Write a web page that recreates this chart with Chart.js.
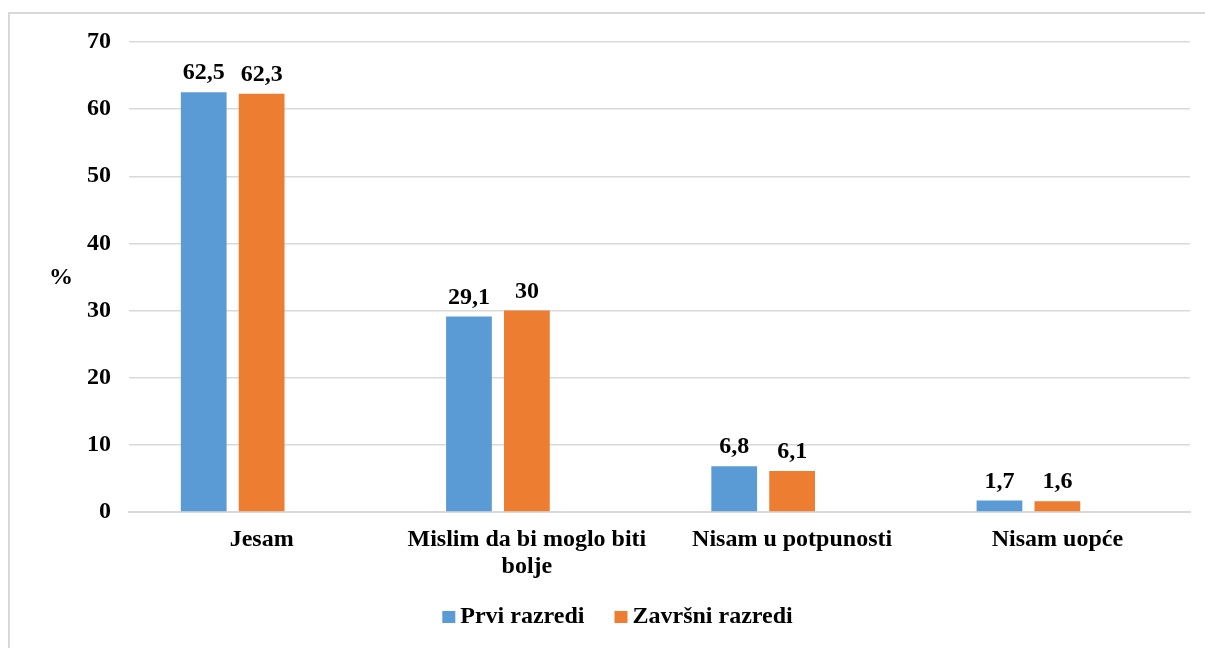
<!DOCTYPE html>
<html lang="hr">
<head>
<meta charset="UTF-8" />
<title>Grafikon</title>
<script src="https://cdn.jsdelivr.net/npm/chart.js@4.4.0/dist/chart.umd.min.js"></script>
<style>
  html, body { margin: 0; padding: 0; background: #fff; overflow: hidden; }
  #frame {
    position: absolute; left: 8px; top: 12px; width: 1400px; height: 800px;
    border-top: 2px solid #d9d9d9; border-left: 2px solid #d9d9d9;
  }
  #wrap { position: absolute; left: 0; top: 0; width: 1205px; height: 648px; }
</style>
</head>
<body>
<div id="frame"></div>
<div id="wrap"><canvas id="chart" width="1205" height="648"></canvas></div>
<script>
// podaci
const categories = ["Jesam", ["Mislim da bi moglo biti", "bolje"], "Nisam u potpunosti", "Nisam uopće"];
const prviRazredi = [62.5, 29.1, 6.8, 1.7];
const zavrsniRazredi = [62.3, 30, 6.1, 1.6];
// prazna treća serija (u originalu ostavlja prazno mjesto desno od stupaca)
const prazno = [null, null, null, null];
const yTicks = [0, 10, 20, 30, 40, 50, 60, 70];

const FONT = '"Liberation Serif", "Times New Roman", serif';

// vrijednosti iznad stupaca, oznaka osi "%" i legenda
const labelsPlugin = {
  id: "labelsPlugin",
  afterDatasetsDraw(chart) {
    const ctx = chart.ctx;
    ctx.save();
    ctx.fillStyle = "#000";
    ctx.font = "bold 24px " + FONT;
    ctx.textAlign = "center";
    ctx.textBaseline = "alphabetic";
    chart.data.datasets.forEach((ds, i) => {
      chart.getDatasetMeta(i).data.forEach((bar, j) => {
        if (ds.data[j] == null) return;
        const txt = String(ds.data[j]).replace(".", ",");
        ctx.fillText(txt, bar.x, bar.y - 13);
      });
    });
    const a = chart.chartArea;
    ctx.textBaseline = "middle";
    ctx.fillText("%", 61, (a.top + a.bottom) / 2 + 1);

    // legenda
    const items = chart.data.datasets.filter(ds => ds.label);
    const box = 13, gap = 5, space = 30;
    const widths = items.map(ds => ctx.measureText(ds.label).width);
    const total = widths.reduce((s, w) => s + box + gap + w, 0) + space * (items.length - 1);
    let x = 617.5 - total / 2;
    const y = 617;
    ctx.textAlign = "left";
    items.forEach((ds, i) => {
      ctx.fillStyle = ds.backgroundColor;
      ctx.fillRect(x, y - 6, box, box - 1);
      ctx.fillStyle = "#000";
      ctx.fillText(ds.label, x + box + gap, y);
      x += box + gap + widths[i] + space;
    });
    ctx.restore();
  }
};

new Chart(document.getElementById("chart"), {
  type: "bar",
  data: {
    labels: categories,
    datasets: [
      { label: "Prvi razredi", data: prviRazredi, backgroundColor: "#5B9BD5" },
      { label: "Završni razredi", data: zavrsniRazredi, backgroundColor: "#ED7D31" },
      { label: "", data: prazno, backgroundColor: "rgba(0,0,0,0)" }
    ]
  },
  options: {
    responsive: false,
    animation: false,
    categoryPercentage: 0.655,
    barPercentage: 0.79,
    layout: { padding: { top: 42, right: 15, bottom: 65, left: 0 } },
    plugins: {
      legend: { display: false },
      tooltip: { enabled: false }
    },
    scales: {
      x: {
        grid: { display: false, drawTicks: false },
        border: { display: true, color: "#d9d9d9", width: 2 },
        ticks: {
          color: "#000",
          padding: 14,
          maxRotation: 0,
          autoSkip: false,
          font: { family: FONT, size: 24, weight: "bold", lineHeight: 1.13 }
        },
        afterFit(scale) { scale.height = 71; }
      },
      y: {
        min: 0,
        max: 70,
        afterBuildTicks(scale) { scale.ticks = yTicks.map(v => ({ value: v })); },
        grid: { color: "#d9d9d9", lineWidth: 1.5, drawTicks: false },
        border: { display: false },
        ticks: {
          color: "#000",
          padding: 18,
          font: { family: FONT, size: 24, weight: "bold" }
        },
        afterFit(scale) { scale.width = 129; }
      }
    }
  },
  plugins: [labelsPlugin]
});
</script>
</body>
</html>
